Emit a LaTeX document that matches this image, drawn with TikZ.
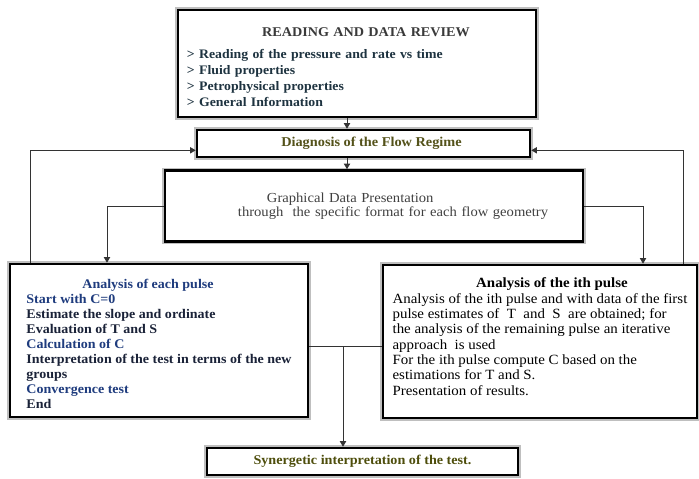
\documentclass[tikz,border=0pt]{standalone}
\usepackage{fontspec}
\setmainfont{Liberation Serif}[FakeStretch=1.06]
\usetikzlibrary{positioning, arrows.meta}
\definecolor{headgray}{HTML}{3A3A3A}
\definecolor{itemslate}{HTML}{1E3340}
\definecolor{regime}{HTML}{54521A}
\definecolor{synergy}{HTML}{4E4E0C}
\definecolor{pulseblue}{HTML}{1F3C7E}
\definecolor{pulsedark}{HTML}{1A2238}
\definecolor{graphgray}{HTML}{404040}

\begin{document}
\begin{tikzpicture}[x=0.025cm, y=-0.025cm,
		box/.style={draw=black, line width=1.8pt, fill=white, preaction={draw=gray!50, line width=3.6pt}, inner sep=2pt, font=\fontsize{9.6}{10.7}\selectfont},
		link/.style={draw=gray!40!black, line width=0.6pt},
		arr/.style={link, -{Triangle[width=4.5pt, length=4pt]}}]
		\useasboundingbox (0,0) rectangle (699,479);
		\node[box, minimum width=8.95cm, minimum height=2.675cm, text width=8.5cm, align=left, font=\fontsize{9.25}{11.3}\selectfont\bfseries] (review) at (357,63.5) {%
			\makebox[\hsize]{\rule{0pt}{11.5pt}\hspace*{0.45cm}\fontsize{9.5}{11.3}\selectfont\color{headgray}READING AND DATA REVIEW}\\[4.5pt]
			\color{itemslate}> Reading of the pressure and rate vs time\\
			> Fluid properties\\
			> Petrophysical properties\\
			> General Information};
		\node[box, minimum width=8.325cm, minimum height=0.675cm, text=regime, font=\fontsize{9.6}{10.7}\selectfont\bfseries] (diag) at (363.5,143.5) {\hspace*{0.4cm}Diagnosis of the Flow Regime};
		\node[box, minimum width=10.45cm, minimum height=1.775cm, text width=10.25cm, align=left, text=graphgray, font=\fontsize{9.8}{9.8}\selectfont] (graph) at (374,206) {%
			\hspace*{2.45cm}Graphical Data Presentation\\
			\hspace*{1.725cm}through\ \ the specific format for each flow geometry};
		\node[box, minimum width=7.45cm, minimum height=3.825cm, font=\fontsize{9.4}{10.7}\selectfont\bfseries] (pulse) at (159,340.5) {%
			\begin{tabular}{@{}l@{}}
				\multicolumn{1}{@{}c@{}}{\rule{0pt}{14.6pt}\hspace*{-0.55cm}\color{pulseblue}Analysis of each pulse}\\
				\color{pulseblue}Start with C=0\\
				\color{pulsedark}Estimate the slope and ordinate\\
				\color{pulsedark}Evaluation of T and S\\
				\color{pulseblue}Calculation of C\\
				\color{pulsedark}Interpretation of the test in terms of the new\\
				\color{pulsedark}groups\\
				\color{pulseblue}Convergence test\\
				\color{pulsedark}End
			\end{tabular}};
		\node[box, minimum width=7.85cm, minimum height=3.825cm, font=\fontsize{10}{10.9}\selectfont] (ith) at (540,341.5) {%
			\begin{tabular}{@{}l@{}}
				\multicolumn{1}{@{}c@{}}{\hspace*{0.6cm}\bfseries Analysis of the ith pulse}\\
				Analysis of the ith pulse and with data of the first\\
				pulse estimates of\ \ T\ \ and\ \ S\ \ are obtained; for\\
				the analysis of the remaining pulse an iterative\\
				approach\ \ is used\\
				For the ith pulse compute C based on the\\
				estimations for T and S.\\
				Presentation of results.\rule[-7.5pt]{0pt}{7.5pt}
			\end{tabular}};
		\node[box, minimum width=7.775cm, minimum height=0.675cm, text=synergy, font=\fontsize{9.5}{10.7}\selectfont\bfseries] (synergy) at (362.5,461.5) {Synergetic interpretation of the test.};
		\coordinate (spine) at (347,0);
		\coordinate (drop) at (343,0);
		\draw[arr] (review.south -| spine) -- (diag.north -| spine);
		\draw[arr] (diag.south -| spine) -- (graph.north -| spine);
		\draw[arr] (graph.west) -| ([xshift=-1.3cm]pulse.north);
		\draw[arr] (graph.east) -| ([xshift=2.575cm]ith.north);
		\draw[arr] ([xshift=-3.225cm]pulse.north) |- ([yshift=-0.17cm]diag.west);
		\draw[arr] ([xshift=3.575cm]ith.north) |- ([yshift=-0.17cm]diag.east);
		\coordinate (joinL) at ([yshift=-0.14cm]pulse.east);
		\coordinate (merge) at (joinL -| drop);
		\draw[link] (joinL) -- (joinL -| ith.west);
		\draw[arr] (merge) -- (synergy.north -| merge);
	\end{tikzpicture}
\end{document}
